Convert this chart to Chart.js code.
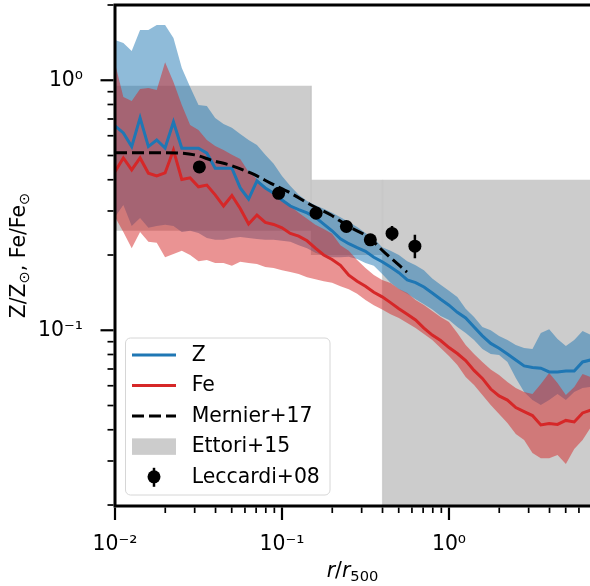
<!DOCTYPE html>
<html><head><meta charset="utf-8">
<script src="https://cdn.jsdelivr.net/npm/chart.js@4/dist/chart.umd.min.js"></script>
<style>html,body{margin:0;padding:0;background:#fff;}canvas{display:block;}</style>
</head><body>
<canvas id="c" width="590" height="586"></canvas>
<script>
// ---------------- data ----------------
const radius = [0.01,0.01122,0.01259,0.01413,0.01585,0.01778,0.01995,0.02239,0.02512,0.02818,
  0.03162,0.03548,0.03981,0.04467,0.05012,0.05623,0.0631,0.07079,0.07943,0.08913,
  0.1,0.1122,0.1259,0.1413,0.1585,0.1778,0.1995,0.2239,0.2512,0.2818,
  0.3162,0.3548,0.3981,0.4467,0.5012,0.5623,0.631,0.7079,0.7943,0.8913,
  1.0,1.122,1.259,1.413,1.585,1.778,1.995,2.239,2.512,2.818,
  3.162,3.548,3.981,4.467,5.012,5.623,6.31,7.079];

const zMed = [0.657,0.616,0.543,0.707,0.543,0.577,0.536,0.681,0.535,0.535,
  0.535,0.511,0.445,0.445,0.445,0.371,0.335,0.396,0.371,0.353,
  0.332,0.314,0.304,0.295,0.283,0.266,0.250,0.232,0.222,0.214,
  0.207,0.196,0.188,0.179,0.170,0.159,0.155,0.149,0.141,0.133,
  0.126,0.118,0.112,0.103,0.095,0.0886,0.0847,0.0804,0.0761,0.072,
  0.071,0.0705,0.0681,0.0681,0.0687,0.0687,0.0747,0.0761];
const zLo = [0.284,0.317,0.261,0.281,0.257,0.261,0.264,0.261,0.247,0.250,
  0.245,0.234,0.230,0.230,0.234,0.236,0.234,0.232,0.230,0.230,
  0.228,0.226,0.219,0.213,0.204,0.198,0.196,0.196,0.197,0.193,
  0.186,0.181,0.168,0.155,0.146,0.140,0.133,0.127,0.121,0.114,
  0.110,0.103,0.0975,0.0914,0.0842,0.0804,0.0797,0.0747,0.0645,0.0567,
  0.0526,0.0502,0.0526,0.0556,0.0526,0.0567,0.0588,0.0593];
const zHi = [1.449,1.410,1.31,1.589,1.589,1.664,1.664,1.476,1.12,0.940,
  0.796,0.789,0.707,0.669,0.645,0.610,0.577,0.551,0.503,0.463,
  0.414,0.378,0.348,0.329,0.316,0.306,0.295,0.283,0.271,0.259,
  0.245,0.233,0.215,0.208,0.200,0.189,0.182,0.174,0.161,0.152,
  0.144,0.136,0.122,0.113,0.103,0.100,0.0949,0.0914,0.0873,0.085,
  0.0842,0.0975,0.101,0.0923,0.0865,0.0914,0.0994,0.0957];

const feMed = [0.431,0.489,0.438,0.489,0.425,0.414,0.426,0.526,0.401,0.407,
  0.375,0.381,0.348,0.314,0.346,0.307,0.266,0.289,0.270,0.265,
  0.257,0.244,0.238,0.228,0.213,0.200,0.192,0.182,0.166,0.157,
  0.150,0.142,0.136,0.129,0.122,0.116,0.110,0.102,0.0957,0.091,
  0.0853,0.0807,0.0757,0.0691,0.0642,0.0582,0.0546,0.0526,0.0491,0.0473,
  0.0456,0.0418,0.0424,0.042,0.0436,0.043,0.0467,0.048];
const feLo = [0.284,0.247,0.213,0.247,0.226,0.224,0.196,0.202,0.208,0.200,
  0.189,0.191,0.186,0.186,0.181,0.188,0.186,0.184,0.179,0.1775,
  0.174,0.171,0.168,0.163,0.160,0.157,0.155,0.150,0.146,0.140,
  0.132,0.126,0.121,0.116,0.112,0.107,0.102,0.0966,0.0914,0.085,
  0.0789,0.0726,0.065,0.0604,0.0551,0.0502,0.0463,0.0426,0.0385,0.0364,
  0.0323,0.0308,0.0308,0.0317,0.0292,0.0335,0.0364,0.041];
const feHi = [1.17,0.857,0.826,0.923,0.932,0.915,1.18,0.985,0.796,0.663,
  0.633,0.577,0.546,0.526,0.503,0.484,0.430,0.403,0.371,0.351,
  0.335,0.314,0.295,0.279,0.264,0.254,0.243,0.219,0.208,0.191,
  0.1775,0.1664,0.1589,0.1546,0.1463,0.141,0.1322,0.1262,0.1195,0.113,
  0.108,0.0975,0.0873,0.0804,0.0747,0.0697,0.0662,0.0621,0.0588,0.0567,
  0.0556,0.061,0.0675,0.0615,0.0551,0.0593,0.0669,0.065];

const mernierR = [0.01,0.02,0.03,0.0386,0.0488,0.0584,0.0689,0.0859,0.1132,0.1492,0.1965,0.2484,0.3273,0.4138,0.5604];
const mernierZ = [0.513,0.513,0.503,0.477,0.458,0.438,0.418,0.387,0.353,0.317,0.289,0.261,0.236,0.204,0.171];

const ettoriRmin = [0.01,0.15,0.4];
const ettoriRmax = [0.15,0.4,10];
const ettoriLo = [0.25,0.2,0.01];
const ettoriHi = [0.95,0.4,0.4];

const leccardiR  = [0.032,0.0955,0.160,0.243,0.338,0.456,0.625];
const leccardiZ  = [0.450,0.353,0.294,0.260,0.230,0.244,0.217];
const leccardiLo = [0.440,0.345,0.287,0.253,0.223,0.228,0.194];
const leccardiHi = [0.460,0.361,0.301,0.267,0.237,0.261,0.241];

const xRange = [0.01, 6.99];
const yRange = [0.01982, 2.0];

// ---------------- styling ----------------
const FONT = '"DejaVu Sans", sans-serif';
const FS = 20.4;
const C_Z = '#1f77b4', C_FE = '#d62728';
const BAND_Z = 'rgba(31,119,180,0.5)', BAND_FE = 'rgba(214,39,40,0.5)';
const GRAY = 'rgba(128,128,128,0.4)';
const NONE = 'rgba(0,0,0,0)';

const pts = (xs, ys) => xs.map((x, i) => ({x, y: ys[i]}));
const SUP = {'-':'\u207B','0':'\u2070','1':'\u00B9','2':'\u00B2','3':'\u00B3'};
function decadeLabel(v) {
  const e = Math.log10(v), r = Math.round(e);
  if (Math.abs(e - r) > 1e-6) return '';
  return '10' + String(r).split('').map(c => SUP[c]).join('');
}

const errData = [];
leccardiR.forEach((r, i) => { errData.push({x:r, y:leccardiLo[i]}, {x:r, y:leccardiHi[i]}, {x:r, y:null}); });
const edgeData = [];
ettoriRmin.forEach((r, i) => {
  edgeData.push({x:r, y:ettoriLo[i]}, {x:r, y:ettoriHi[i]}, {x:r, y:null});
  edgeData.push({x:ettoriRmax[i], y:ettoriLo[i]}, {x:ettoriRmax[i], y:ettoriHi[i]}, {x:ettoriRmax[i], y:null});
});

const datasets = [
  {label:'Leccardi+08', data:pts(leccardiR, leccardiZ), showLine:false, pointRadius:6.5, pointHoverRadius:6.5,
   pointBackgroundColor:'#000', pointBorderWidth:0, borderColor:NONE, order:0},
  {label:'_leccardiErr', data:errData, borderColor:'#000', borderWidth:2.5, pointRadius:0, spanGaps:false, fill:false, order:0},
  {label:'Mernier+17', data:pts(mernierR, mernierZ), borderColor:'#000', borderWidth:3, borderDash:[12,5],
   pointRadius:0, fill:false, cubicInterpolationMode:'monotone', order:1},
  {label:'Z', data:pts(radius, zMed), borderColor:C_Z, borderWidth:3, pointRadius:0, fill:false, order:2},
  {label:'Fe', data:pts(radius, feMed), borderColor:C_FE, borderWidth:3, pointRadius:0, fill:false, order:2},
  {label:'_feHi', data:pts(radius, feHi), borderColor:NONE, borderWidth:0, pointRadius:0, fill:'+1', backgroundColor:BAND_FE, order:3},
  {label:'_feLo', data:pts(radius, feLo), borderColor:NONE, borderWidth:0, pointRadius:0, fill:false, order:3},
  {label:'_zHi', data:pts(radius, zHi), borderColor:NONE, borderWidth:0, pointRadius:0, fill:'+1', backgroundColor:BAND_Z, order:4},
  {label:'_zLo', data:pts(radius, zLo), borderColor:NONE, borderWidth:0, pointRadius:0, fill:false, order:4},
];
ettoriRmin.forEach((r, i) => {
  datasets.push({label: i === 0 ? 'Ettori+15' : '_ettori' + i,
    data:[{x:r, y:ettoriHi[i]}, {x:ettoriRmax[i], y:ettoriHi[i]}],
    borderColor:NONE, borderWidth:0, pointRadius:0, fill:{value:ettoriLo[i]}, backgroundColor:GRAY, order:6});
});
datasets.push({label:'_ettoriEdges', data:edgeData, borderColor:'rgba(128,128,128,0.3)', borderWidth:1.2,
  pointRadius:0, spanGaps:false, fill:false, order:5});

// ---------------- decorations drawn from the scales ----------------
function tickValues(min, max) {
  const out = [];
  for (let e = Math.floor(Math.log10(min)); e <= Math.ceil(Math.log10(max)); e++) {
    for (let m = 1; m < 10; m++) {
      const v = m * Math.pow(10, e);
      if (v >= min * 0.9999 && v <= max * 1.0001) out.push({v, major: m === 1});
    }
  }
  return out;
}
function drawRich(ctx, parts, x, y, align) {
  let w = 0;
  parts.forEach(p => { ctx.font = p.font; w += ctx.measureText(p.t).width; });
  let cx = align === 'center' ? x - w / 2 : x;
  parts.forEach(p => { ctx.font = p.font; ctx.fillText(p.t, cx, y + (p.dy || 0)); cx += ctx.measureText(p.t).width; });
}
function noPad(s) { s.paddingTop = 0; s.paddingBottom = 0; s.paddingLeft = 0; s.paddingRight = 0; }

const decor = {
  id: 'decor',
  afterDraw(chart) {
    const {ctx, chartArea: a, scales: {x, y}} = chart;
    ctx.save();
    ctx.strokeStyle = '#000'; ctx.lineWidth = 3; ctx.lineJoin = 'miter'; ctx.lineCap = 'butt';
    ctx.beginPath();
    ctx.moveTo(chart.width + 2, a.top); ctx.lineTo(a.left, a.top);
    ctx.lineTo(a.left, a.bottom); ctx.lineTo(chart.width + 2, a.bottom);
    ctx.stroke();
    tickValues(x.min, x.max).forEach(t => {
      const px = x.getPixelForValue(t.v);
      ctx.lineWidth = t.major ? 2.2 : 1.7;
      ctx.beginPath(); ctx.moveTo(px, a.bottom + 1.5); ctx.lineTo(px, a.bottom + (t.major ? 14 : 7)); ctx.stroke();
    });
    tickValues(y.min, y.max).forEach(t => {
      const py = y.getPixelForValue(t.v);
      ctx.lineWidth = t.major ? 2.2 : 1.7;
      ctx.beginPath(); ctx.moveTo(a.left - 1.5, py); ctx.lineTo(a.left - (t.major ? 14.5 : 7.5), py); ctx.stroke();
    });
    ctx.fillStyle = '#000'; ctx.textBaseline = 'alphabetic'; ctx.textAlign = 'left';
    const big = FS + 'px ' + FONT, small = (FS * 0.72) + 'px ' + FONT, ital = 'oblique ' + FS + 'px ' + FONT;
    drawRich(ctx, [{t:'r', font:ital}, {t:'/', font:big}, {t:'r', font:ital}, {t:'500', font:small, dy:3.5}],
      (a.left + a.right) / 2, 577, 'center');
    ctx.save();
    ctx.translate(25, (a.top + a.bottom) / 2); ctx.rotate(-Math.PI / 2);
    drawRich(ctx, [{t:'Z/Z', font:big}, {t:'\u2299', font:small, dy:3.5}, {t:', Fe/Fe', font:big}, {t:'\u2299', font:small, dy:3.5}],
      0, 0, 'center');
    ctx.restore();
    const order = ['Z', 'Fe', 'Mernier+17', 'Ettori+15', 'Leccardi+08'];
    const lx = 125.5, ly = 338, lw = 204.5, lh = 157, rr = 5;
    ctx.beginPath();
    ctx.moveTo(lx + rr, ly); ctx.arcTo(lx + lw, ly, lx + lw, ly + lh, rr); ctx.arcTo(lx + lw, ly + lh, lx, ly + lh, rr);
    ctx.arcTo(lx, ly + lh, lx, ly, rr); ctx.arcTo(lx, ly, lx + lw, ly, rr); ctx.closePath();
    ctx.fillStyle = 'rgba(255,255,255,0.8)'; ctx.fill();
    ctx.strokeStyle = '#d6d6d6'; ctx.lineWidth = 1; ctx.stroke();
    order.forEach((lab, i) => {
      const ds = chart.data.datasets.find(d => d.label === lab);
      const cy = 355 + i * 30.45;
      const h0 = 132, h1 = 176;
      ctx.save();
      if (lab === 'Ettori+15') {
        ctx.fillStyle = ds.backgroundColor; ctx.fillRect(h0, cy - 8, h1 - h0, 16.5);
      } else if (lab === 'Leccardi+08') {
        ctx.strokeStyle = '#000'; ctx.lineWidth = 2.5;
        ctx.beginPath(); ctx.moveTo(154, cy - 9); ctx.lineTo(154, cy + 10); ctx.stroke();
        ctx.fillStyle = '#000'; ctx.beginPath(); ctx.arc(154, cy, 6.5, 0, Math.PI * 2); ctx.fill();
      } else {
        ctx.strokeStyle = ds.borderColor; ctx.lineWidth = ds.borderWidth;
        ctx.setLineDash(ds.borderDash || []);
        ctx.beginPath(); ctx.moveTo(h0, cy); ctx.lineTo(h1, cy); ctx.stroke();
      }
      ctx.restore();
      ctx.fillStyle = '#000'; ctx.font = big; ctx.textBaseline = 'middle'; ctx.textAlign = 'left';
      ctx.fillText(lab, 191.7, cy + 0.5);
    });
    ctx.restore();
  }
};

new Chart(document.getElementById('c'), {
  type: 'line',
  data: {datasets},
  options: {
    responsive: false, animation: false, devicePixelRatio: 1,
    layout: {autoPadding: false, padding: {top: 5, right: 0, left: 0, bottom: 0}},
    plugins: {legend: {display: false}, tooltip: {enabled: false}},
    elements: {line: {tension: 0}},
    scales: {
      x: {type: 'logarithmic', position: 'bottom', min: xRange[0], max: xRange[1],
          grid: {display: false, drawTicks: false}, border: {display: false},
          ticks: {autoSkip: false, maxRotation: 0, padding: 26, color: '#000',
                  font: {family: FONT, size: FS}, callback: v => decadeLabel(v)},
          afterFit: s => { s.height = 80; noPad(s); }},
      y: {type: 'logarithmic', position: 'left', min: yRange[0], max: yRange[1],
          grid: {display: false, drawTicks: false}, border: {display: false},
          ticks: {autoSkip: false, padding: 32, color: '#000',
                  font: {family: FONT, size: FS}, callback: v => decadeLabel(v)},
          afterFit: s => { s.width = 115; noPad(s); }}
    }
  },
  plugins: [decor]
});
</script>
</body></html>
